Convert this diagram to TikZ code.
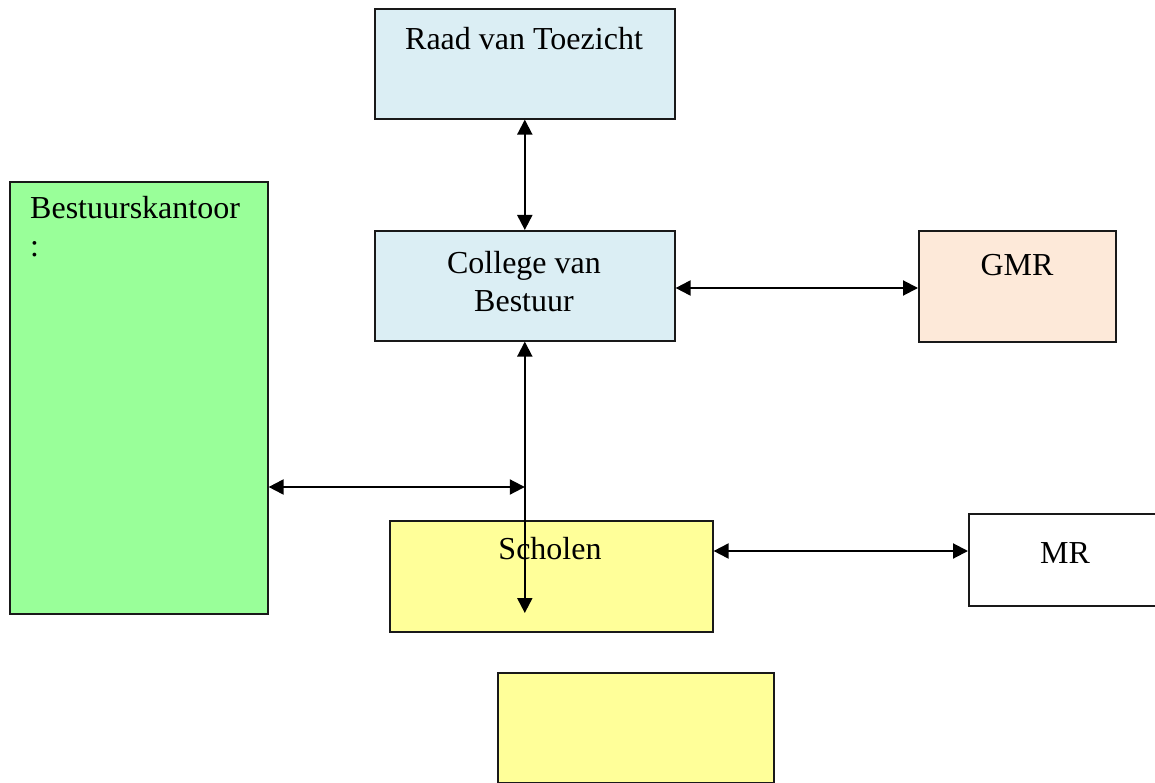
\documentclass[tikz,border=0pt]{standalone}
\usepackage{fontspec}
\setmainfont{Liberation Serif}
\usetikzlibrary{arrows.meta}
\definecolor{lblue}{HTML}{DBEEF4}
\definecolor{lgreen}{HTML}{99FF99}
\definecolor{lpeach}{HTML}{FDE9D9}
\definecolor{lyellow}{HTML}{FFFF99}
\begin{document}
\begin{tikzpicture}[x=1pt,y=-1pt,
  box/.style={draw=black!90, line width=1.6pt, rectangle, inner sep=0pt, anchor=north west},
  lbl/.style={font=\fontsize{32}{38}\selectfont, inner sep=0pt, anchor=base, align=center},
  dbl/.style={line width=2pt, {Triangle[length=15pt,width=15pt]}-{Triangle[length=15pt,width=15pt]}}]
\useasboundingbox (0,0) rectangle (1155,783);
% boxes
\node[box, fill=lblue, minimum width=300pt, minimum height=110pt] (rvt) at (374,8) {};
\node[box, fill=lgreen, minimum width=258pt, minimum height=432pt] (bk) at (9,181) {};
\node[box, fill=lblue, minimum width=300pt, minimum height=110pt] (cvb) at (374,230) {};
\node[box, fill=lpeach, minimum width=197pt, minimum height=111pt] (gmr) at (918,230) {};
\node[box, fill=lyellow, minimum width=323pt, minimum height=111pt] (sch) at (389,520) {};
\node[box, fill=white, minimum width=200pt, minimum height=92pt] (mr) at (968,513) {};
\node[box, fill=lyellow, minimum width=276pt, minimum height=110pt] (empty) at (497,672) {};
% texts
\node[lbl] (trvt) at (524,50) {Raad van Toezicht};
\node[lbl, anchor=base west, align=left] (tbk) at (30,257) {Bestuurskantoor\\:};
\node[lbl] (tcvb) at (524,312) {College van\\Bestuur};
\node[lbl] (tgmr) at (1017,276) {GMR};
\node[lbl] (tsch) at (550,559) {Scholen};
\node[lbl] (tmr) at (1065,563) {MR};
% connectors
\coordinate (tip) at (cvb.south |- 0,613);
\coordinate (join) at (cvb.south |- 0,487);
\draw[dbl] (rvt.south) -- (cvb.north);
\draw[dbl] (cvb.east |- 0,288) -- (gmr.west |- 0,288);
\draw[dbl] (cvb.south) -- (tip);
\draw[dbl] (bk.east |- join) -- (join);
\draw[dbl] (sch.east |- 0,551) -- (mr.west |- 0,551);
\end{tikzpicture}
\end{document}
